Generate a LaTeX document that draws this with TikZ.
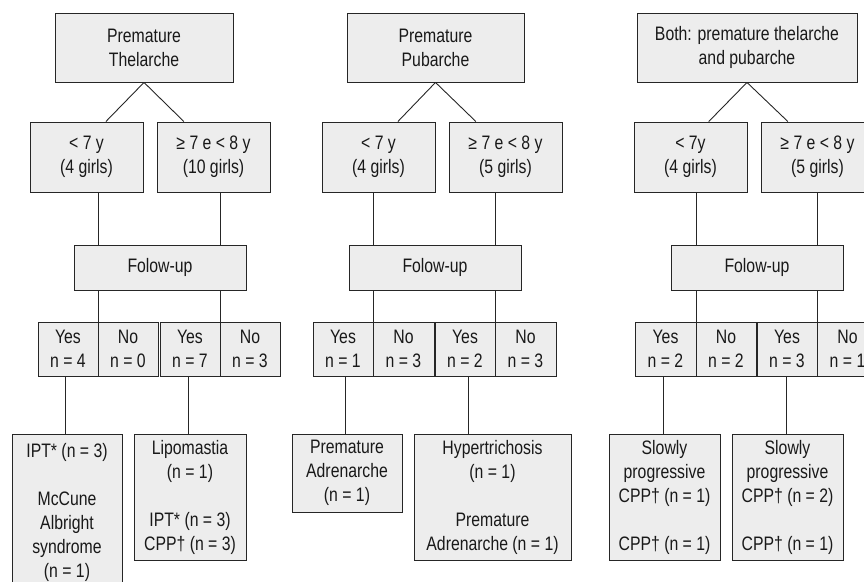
\documentclass[tikz,border=0pt]{standalone}
\usepackage{fontspec}
\setmainfont{Liberation Sans}[FakeStretch=0.81]
\usetikzlibrary{calc}
\begin{document}
\begin{tikzpicture}[x=1pt,y=-1pt,
  box/.style={draw=black!85, fill=black!7, line width=0.9pt, inner sep=0pt, align=center,
    font=\fontsize{19.5}{24}\selectfont, text=black!90},
  link/.style={draw=black!85, line width=0.9pt}]
\useasboundingbox (0,0) rectangle (864,581);
\clip (0,0) rectangle (864,581);

% ---------- Panel 1 ----------
\node[box, minimum width=178pt, minimum height=69pt] (T1) at (144,47.5) {Premature\\Thelarche};
\node[box, minimum width=113pt, minimum height=70pt] (A1) at (86.5,157) {< 7 y\\(4 girls)};
\node[box, minimum width=113pt, minimum height=70pt] (B1) at (213.5,157) {≥ 7 e < 8 y\\(10 girls)};
\node[box, minimum width=172pt, minimum height=45pt] (F1) at (160,267.5) {Folow-up};
\node[box, minimum width=60pt, minimum height=54pt] (Y1) at (68,349) {Yes\\n = 4};
\node[box, minimum width=60pt, minimum height=54pt] (N1) at (128,349) {No\\n = 0};
\node[box, minimum width=60pt, minimum height=54pt] (Y2) at (190,349) {Yes\\n = 7};
\node[box, minimum width=60pt, minimum height=54pt] (N2) at (250,349) {No\\n = 3};
\node[box, minimum width=110pt, minimum height=156pt] (R1) at (67,512) {IPT* (n = 3)\\[24pt]McCune\\Albright\\syndrome\\(n = 1)};
\node[box, minimum width=112pt, minimum height=126pt] (R2) at (190,497) {Lipomastia\\(n = 1)\\[24pt]IPT* (n = 3)\\CPP† (n = 3)};

\draw[link] (T1.south) -- ($(A1.north west)!0.67!(A1.north east)$);
\draw[link] (T1.south) -- ($(B1.north west)!0.24!(B1.north east)$);
\draw[link] (A1.south -| Y1.north east) -- (F1.north -| Y1.north east);
\draw[link] (F1.south -| Y1.north east) -- (Y1.north east);
\draw[link] (B1.south -| Y2.north east) -- (F1.north -| Y2.north east);
\draw[link] (F1.south -| Y2.north east) -- (Y2.north east);
\draw[link] ([xshift=-3pt]Y1.south) -- ([xshift=-3pt]Y1.south |- R1.north);
\draw[link] ([xshift=-2pt]Y2.south) -- ([xshift=-2pt]Y2.south |- R2.north);

% ---------- Panel 2 ----------
\node[box, minimum width=177pt, minimum height=69pt] (T2) at (435.5,47.5) {Premature\\Pubarche};
\node[box, minimum width=113pt, minimum height=70pt] (A2) at (378.5,157) {< 7 y\\(4 girls)};
\node[box, minimum width=113pt, minimum height=70pt] (B2) at (505.5,157) {≥ 7 e < 8 y\\(5 girls)};
\node[box, minimum width=172pt, minimum height=45pt] (F2) at (435,267.5) {Folow-up};
\node[box, minimum width=60pt, minimum height=54pt] (Y3) at (343,349) {Yes\\n = 1};
\node[box, minimum width=61pt, minimum height=54pt] (N3) at (403.5,349) {No\\n = 3};
\node[box, minimum width=60pt, minimum height=54pt] (Y4) at (465,349) {Yes\\n = 2};
\node[box, minimum width=61pt, minimum height=54pt] (N4) at (525.5,349) {No\\n = 3};
\node[box, minimum width=110pt, minimum height=78pt] (R3) at (347,473) {Premature\\Adrenarche\\(n = 1)};
\node[box, minimum width=157pt, minimum height=126pt] (R4) at (492.5,497) {Hypertrichosis\\(n = 1)\\[24pt]Premature\\Adrenarche (n = 1)};

\draw[link] (T2.south) -- ($(A2.north west)!0.67!(A2.north east)$);
\draw[link] (T2.south) -- ($(B2.north west)!0.24!(B2.north east)$);
\draw[link] (A2.south -| Y3.north east) -- (F2.north -| Y3.north east);
\draw[link] (F2.south -| Y3.north east) -- (Y3.north east);
\draw[link] (B2.south -| Y4.north east) -- (F2.north -| Y4.north east);
\draw[link] (F2.south -| Y4.north east) -- (Y4.north east);
\draw[link] ([xshift=2pt]Y3.south) -- ([xshift=2pt]Y3.south |- R3.north);
\draw[link] ([xshift=3pt]Y4.south) -- ([xshift=3pt]Y4.south |- R4.north);

% ---------- Panel 3 ----------
\node[box, minimum width=220pt, minimum height=69pt] (T3) at (747,47.5) {Both: premature thelarche\\and pubarche};
\node[box, minimum width=113pt, minimum height=70pt] (A3) at (690.5,157) {< 7y\\(4 girls)};
\node[box, minimum width=113pt, minimum height=70pt] (B3) at (817.5,157) {≥ 7 e < 8 y\\(5 girls)};
\node[box, minimum width=172pt, minimum height=45pt] (F3) at (757,267.5) {Folow-up};
\node[box, minimum width=61pt, minimum height=54pt] (Y5) at (665.5,349) {Yes\\n = 2};
\node[box, minimum width=60pt, minimum height=54pt] (N5) at (726,349) {No\\n = 2};
\node[box, minimum width=60pt, minimum height=54pt] (Y6) at (787,349) {Yes\\n = 3};
\node[box, minimum width=61pt, minimum height=54pt] (N6) at (847.5,349) {No\\n = 1};
\node[box, minimum width=111pt, minimum height=126pt] (R5) at (664.5,497) {Slowly\\progressive\\CPP† (n = 1)\\[24pt]CPP† (n = 1)};
\node[box, minimum width=111pt, minimum height=126pt] (R6) at (787.5,497) {Slowly\\progressive\\CPP† (n = 2)\\[24pt]CPP† (n = 1)};

\draw[link] (T3.south) -- ($(A3.north west)!0.66!(A3.north east)$);
\draw[link] (T3.south) -- ($(B3.north west)!0.24!(B3.north east)$);
\draw[link] (A3.south -| Y5.north east) -- (F3.north -| Y5.north east);
\draw[link] (F3.south -| Y5.north east) -- (Y5.north east);
\draw[link] (B3.south -| Y6.north east) -- (F3.north -| Y6.north east);
\draw[link] (F3.south -| Y6.north east) -- (Y6.north east);
\draw[link] ([xshift=-2.5pt]Y5.south) -- ([xshift=-2.5pt]Y5.south |- R5.north);
\draw[link] ([xshift=-1pt]Y6.south) -- ([xshift=-1pt]Y6.south |- R6.north);
\end{tikzpicture}
\end{document}
